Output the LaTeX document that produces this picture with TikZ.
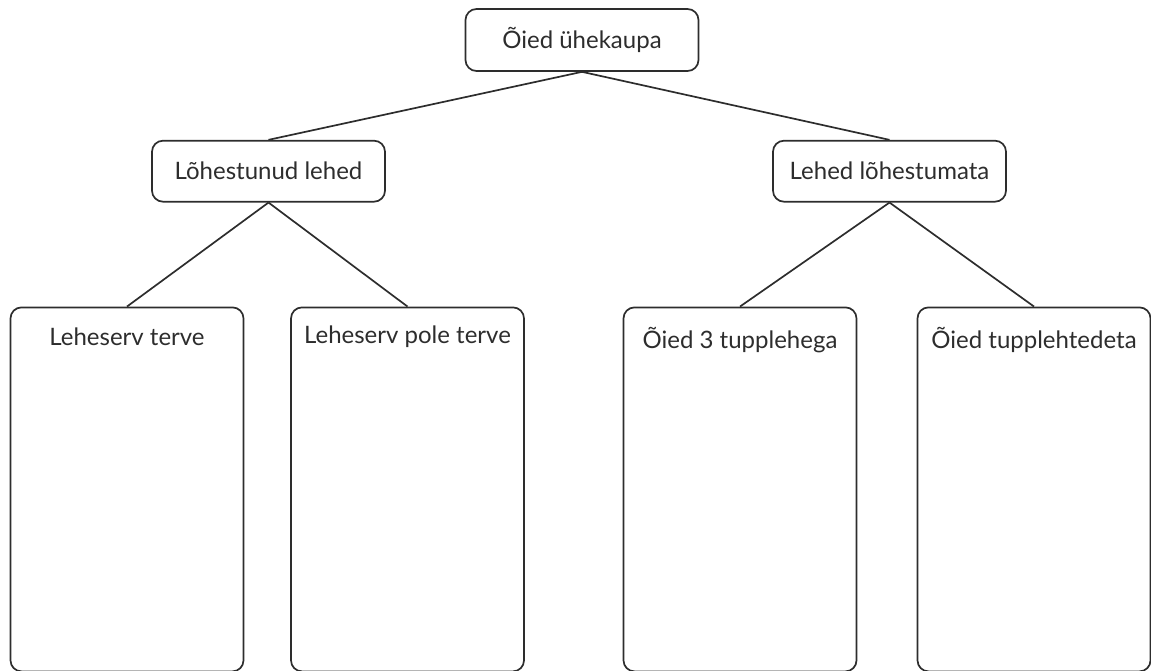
\documentclass[tikz,border=0pt]{standalone}
\usepackage{fontspec}
\setmainfont{Lato}
\usepackage{tikz}
\usetikzlibrary{positioning}
\definecolor{inkgray}{RGB}{45,45,45}

\begin{document}
\begin{tikzpicture}[
  x=1pt, y=1pt,
  box/.style={rectangle, rounded corners=11pt, draw=inkgray, line width=1.7pt,
              minimum width=233pt, minimum height=61pt, inner sep=0pt,
              font=\fontsize{24}{28}\selectfont, text=inkgray, text centered},
  leaf/.style={rectangle, rounded corners=11pt, draw=inkgray, line width=1.7pt,
               minimum width=233pt, minimum height=364pt, inner sep=0pt},
  leaftext/.style={font=\fontsize{24}{28}\selectfont, text=inkgray, inner sep=0pt},
  link/.style={draw=inkgray, line width=1.7pt}
]
\useasboundingbox (0,0) rectangle (1151,-671);

% Level 1
\node[box, minimum height=62pt] (root) at (582,-40) {Õied ühekaupa};

% Level 2
\node[box, below=68pt of root, xshift=-313.5pt] (split) {Lõhestunud lehed};
\node[box, below=68pt of root, xshift=307.5pt] (whole) {Lehed lõhestumata};

% Level 3
\node[leaf, below=104pt of split, xshift=-141.5pt] (edge) {};
\node[leaf, below=104pt of split, xshift=139pt] (noedge) {};
\node[leaf, below=104pt of whole, xshift=-149.5pt] (three) {};
\node[leaf, below=104pt of whole, xshift=144.5pt] (none) {};

\node[leaftext, below=21pt of edge.north] (edget) {Leheserv terve};
\node[leaftext, below=19pt of noedge.north] (noedget) {Leheserv pole terve};
\node[leaftext, below=21pt of three.north] (threet) {Õied 3 tupplehega};
\node[leaftext, below=21pt of none.north] (nonet) {Õied tupplehtedeta};

% Links
\draw[link] (root.south) -- (split.north);
\draw[link] (root.south) -- (whole.north);
\draw[link] (split.south) -- (edge.north);
\draw[link] (split.south) -- (noedge.north);
\draw[link] (whole.south) -- (three.north);
\draw[link] (whole.south) -- (none.north);
\end{tikzpicture}
\end{document}
